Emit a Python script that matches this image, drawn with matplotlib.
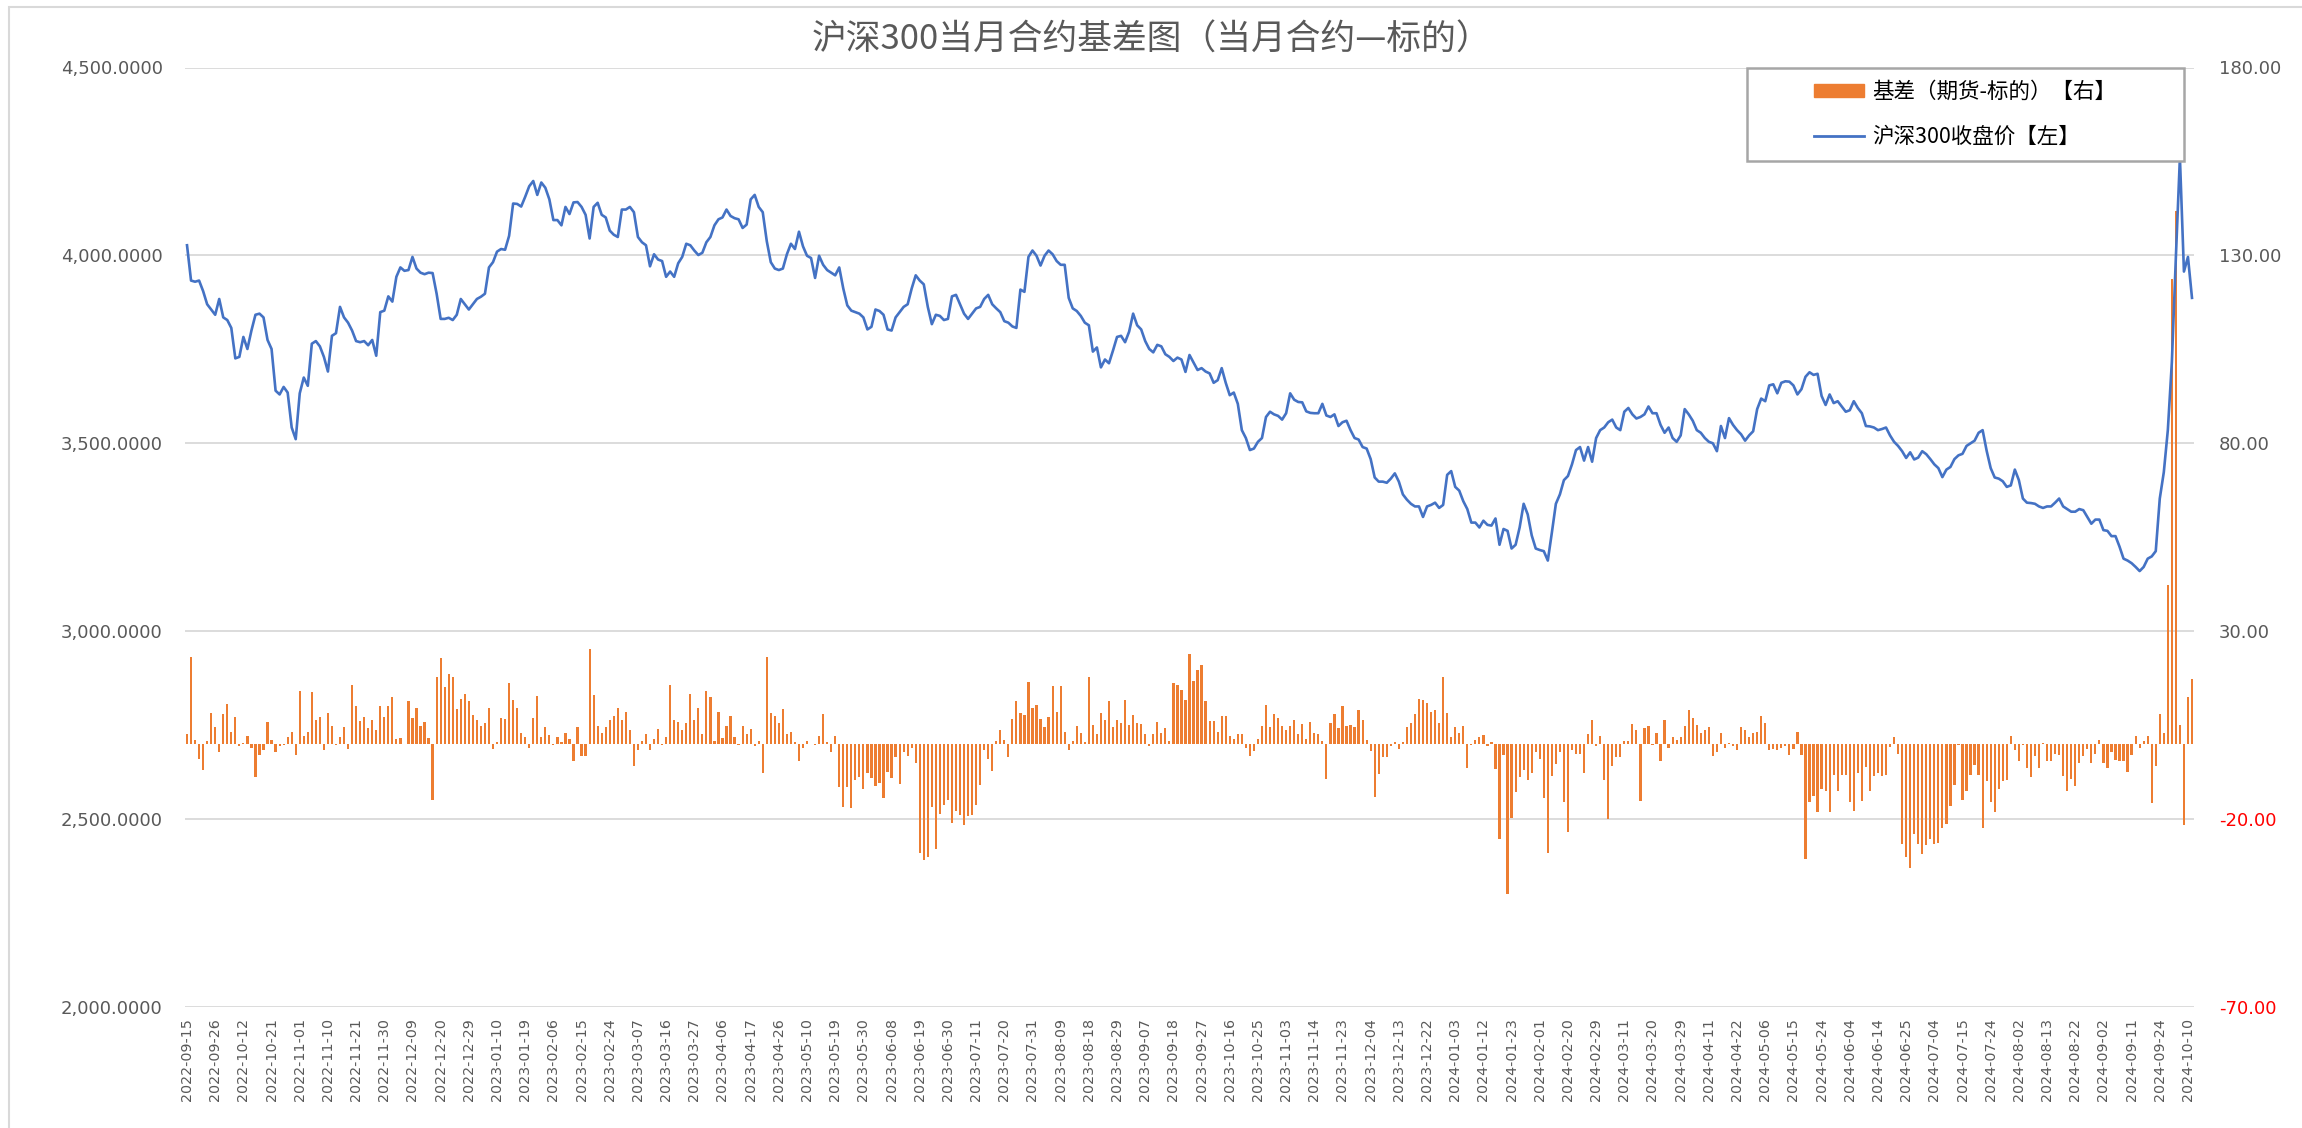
import matplotlib.pyplot as plt
from matplotlib.patches import Rectangle, Patch
from matplotlib.lines import Line2D

plt.rcParams['font.family'] = ['Noto Sans CJK SC', 'DejaVu Sans']

# x-axis labels (every 7th trading day)
tick_labels = [
    '2022-09-15', '2022-09-26', '2022-10-12', '2022-10-21', '2022-11-01', '2022-11-10',
    '2022-11-21', '2022-11-30', '2022-12-09', '2022-12-20', '2022-12-29', '2023-01-10',
    '2023-01-19', '2023-02-06', '2023-02-15', '2023-02-24', '2023-03-07', '2023-03-16',
    '2023-03-27', '2023-04-06', '2023-04-17', '2023-04-26', '2023-05-10', '2023-05-19',
    '2023-05-30', '2023-06-08', '2023-06-19', '2023-06-30', '2023-07-11', '2023-07-20',
    '2023-07-31', '2023-08-09', '2023-08-18', '2023-08-29', '2023-09-07', '2023-09-18',
    '2023-09-27', '2023-10-16', '2023-10-25', '2023-11-03', '2023-11-14', '2023-11-23',
    '2023-12-04', '2023-12-13', '2023-12-22', '2024-01-03', '2024-01-12', '2024-01-23',
    '2024-02-01', '2024-02-20', '2024-02-29', '2024-03-11', '2024-03-20', '2024-03-29',
    '2024-04-11', '2024-04-22', '2024-05-06', '2024-05-15', '2024-05-24', '2024-06-04',
    '2024-06-14', '2024-06-25', '2024-07-04', '2024-07-15', '2024-07-24', '2024-08-02',
    '2024-08-13', '2024-08-22', '2024-09-02', '2024-09-11', '2024-09-24', '2024-10-10',
]

# 沪深300收盘价 (left axis)
close = [
    4027, 3933, 3930, 3933, 3905, 3870, 3856, 3842, 3884, 3835,
    3828, 3807, 3726, 3730, 3783, 3751, 3800, 3842, 3845, 3835,
    3775, 3751, 3640, 3630, 3650, 3635, 3542, 3511, 3633, 3675,
    3653, 3765, 3772, 3758, 3730, 3691, 3786, 3793, 3863, 3835,
    3821, 3800, 3772, 3769, 3772, 3761, 3775, 3733, 3849, 3853,
    3891, 3877, 3943, 3968, 3959, 3961, 3996, 3965, 3954, 3950,
    3954, 3953, 3898, 3831, 3831, 3834, 3828, 3842, 3884, 3870,
    3856, 3870, 3884, 3890, 3898, 3968, 3982, 4010, 4017, 4015,
    4052, 4138, 4137, 4130,
    4156, 4184, 4198, 4161, 4194, 4180,
    4149, 4094, 4094, 4080, 4129, 4110, 4141, 4142, 4129, 4108,
    4045, 4129, 4140, 4108, 4101, 4066, 4055, 4049, 4122, 4122,
    4129, 4115, 4049, 4035, 4027, 3971, 4003, 3989, 3985, 3943,
    3957, 3943, 3979, 3996, 4031, 4027, 4013, 4001, 4007, 4035,
    4049, 4080, 4096, 4101, 4122, 4105, 4099, 4096, 4073, 4082,
    4149, 4161, 4129, 4115, 4038, 3982, 3965, 3961, 3965, 4003,
    4031, 4017, 4063, 4024, 3999, 3993, 3940, 3999, 3975, 3961,
    3954, 3947, 3968, 3912, 3867, 3853, 3849,
    3845, 3835, 3803,
    3810, 3856, 3852, 3842, 3803, 3800, 3835, 3849, 3863, 3870,
    3912, 3947, 3933, 3923, 3863, 3817, 3842, 3839, 3828, 3831,
    3891, 3895, 3870, 3845, 3831, 3845, 3859, 3863, 3884, 3895,
    3870, 3859, 3849, 3825, 3821, 3811, 3807, 3909, 3903, 3996,
    4013, 3999, 3973, 3999, 4013, 4003, 3985, 3975, 3975, 3887,
    3859, 3852, 3839, 3821, 3814, 3744, 3755, 3702, 3723, 3713,
    3747, 3783, 3786, 3769, 3797, 3845, 3814, 3803, 3772, 3751,
    3742, 3762, 3758, 3737, 3730, 3719, 3728, 3723, 3690, 3735,
    3715, 3695, 3700, 3691, 3686, 3661, 3668, 3700, 3661, 3628,
    3635, 3605, 3535, 3514, 3482, 3486, 3504, 3514, 3570, 3584,
    3577, 3573, 3563, 3580, 3633, 3616, 3610, 3609, 3585, 3581,
    3580, 3580, 3605, 3574, 3570, 3577, 3546, 3556, 3560, 3535,
    3514, 3510, 3490, 3486, 3458, 3409, 3398, 3398, 3395, 3406,
    3420, 3398, 3364, 3350, 3339, 3332, 3332, 3304, 3332, 3336,
    3342, 3328, 3336, 3416, 3426, 3384, 3374, 3346, 3325, 3289,
    3289, 3276, 3294, 3283, 3281, 3300, 3230, 3272, 3267, 3220,
    3230, 3276, 3339, 3311,
    3255, 3220, 3216, 3213, 3188, 3262,
    3339, 3364, 3402, 3413, 3444, 3482, 3490, 3454, 3490, 3451,
    3514, 3535, 3542, 3556, 3563, 3542, 3535, 3584, 3594, 3577,
    3566, 3570, 3577, 3598, 3580, 3580, 3549, 3528, 3542, 3514,
    3504, 3521, 3591, 3577, 3560, 3535, 3528, 3514, 3504, 3500,
    3479, 3546, 3514, 3567, 3549, 3535, 3524, 3507, 3521, 3532,
    3591, 3619, 3612, 3654, 3657, 3633, 3661, 3665, 3664, 3654,
    3630, 3644, 3677, 3689, 3682, 3685, 3626, 3602, 3630, 3607,
    3612, 3598, 3584, 3588, 3612, 3594, 3580,
    3546, 3545, 3542, 3535, 3538, 3542, 3521, 3504, 3493, 3479,
    3461, 3476, 3457, 3462, 3479, 3471, 3458, 3444, 3434, 3410,
    3430, 3437, 3458, 3468, 3472, 3493, 3500, 3507, 3528, 3535,
    3480, 3434, 3409, 3406, 3399, 3384, 3388, 3430, 3402, 3353,
    3342, 3341, 3339,
    3332, 3328, 3332, 3332, 3342, 3353, 3332, 3325, 3318, 3318,
    3325, 3322, 3304, 3286, 3297, 3297, 3269, 3267, 3253, 3253,
    3225, 3193, 3188, 3181, 3171, 3160, 3171, 3193, 3199, 3213,
    3353, 3423, 3535, 3716, 3996, 4261, 3957, 3996, 3887,
]

# 基差（期货-标的） (right axis)
basis = [
    2.6, 23.2, 1.0, -4.0, -7.0, 0.7, 8.2, 4.4, -2.2, 7.9,
    10.6, 3.3, 7.1, -0.6, 0.3, 2.2, -1.0, -8.9, -2.9, -1.5,
    5.8, 1.1, -2.2, -0.6, -0.3, 1.8, 3.2, -2.9, 14.2, 2.2,
    3.2, 13.9, 6.3, 7.1, -1.5, 8.2, 4.9, -0.3, 1.8, 4.4,
    -1.3, 15.7, 10.1, 6.0, 7.1, 4.2, 6.3, 3.6, 10.0, 7.1,
    10.0, 12.6, 1.3, 1.5, -0.1, 11.3, 6.8, 9.6, 4.9, 5.8,
    1.5, -15.0, 17.7, 22.8, 15.2, 18.6, 17.7, 9.3, 12.0, 13.3,
    11.3, 7.8, 6.3, 4.9, 5.6, 9.6, -1.3, 0.4, 6.8, 6.7,
    16.1, 11.7, 9.6,
    2.9,
    1.8, -1.0, 6.8, 12.8, 1.8, 4.4,
    2.4, -0.3, 1.8, 0.4, 2.9, 1.3, -4.6, 4.4, -3.2, -3.2,
    25.2, 13.1, 4.9, 2.9, 4.4, 6.3, 7.5, 9.6, 6.3, 8.6,
    3.6, -6.0, -1.5, 0.7, 2.6, -1.5, 1.3, 4.0, -0.3, 1.8,
    15.7, 6.3, 5.8, 3.6, 5.6, 13.3, 6.3, 9.6, 2.6, 14.2,
    12.6, 0.7, 8.6, 1.5, 4.9, 7.4, 1.8, -0.2, 4.9, 2.6,
    4.0, -0.6, 0.7, -7.8, 23.2, 8.2, 7.5, 5.6, 9.3, 2.6,
    3.2, 0.4, -4.6, -1.0, 0.7, 0.1, -0.3, 2.2, 7.9, 0.4,
    -2.2, 2.2, -11.5, -16.8, -11.5,
    -17.1, -9.6, -8.8, -12.0, -7.8, -9.0, -11.3, -10.4, -14.3, -7.4,
    -9.0, -3.6, -10.7, -2.2, -3.2, -1.0, -5.1, -29.0, -31.0, -30.0,
    -16.8, -27.9, -18.6, -16.3, -15.0, -21.0, -17.9, -19.0, -21.7, -19.3,
    -18.8, -16.3, -11.0, -1.5, -3.9, -7.1, 0.7, 3.6, 1.0, -3.6,
    6.7, 11.3, 8.2, 7.8, 16.5, 9.6, 10.4, 6.7, 4.4, 7.1,
    15.3, 8.6, 15.3, 3.3, -1.7, 0.7, 4.9, 2.8, 0.4, 17.7,
    5.1, 2.6, 8.2, 6.3, 11.3, 4.4, 6.3, 5.6, 11.7, 5.1,
    7.8, 5.6, 5.3, 2.6, -0.6, 2.6, 5.8, 2.9, 4.2, 0.7,
    16.1, 15.7, 14.3,
    11.7, 24.0, 16.8, 19.6, 21.0, 11.3, 6.0, 6.0, 3.3, 7.5,
    7.5, 2.2, 1.3, 2.6, 2.6, -1.0, -3.2, -1.8, 1.3, 4.9,
    10.4, 4.4, 7.9, 6.8, 4.9, 3.6, 4.9, 6.3, 2.6, 5.3,
    1.3, 5.8, 2.9, 2.6, 0.7, -9.2, 5.6, 7.9, 4.2, 10.0,
    4.9, 5.1, 4.4, 8.9, 6.3, 1.0, -1.8, -14.2, -8.1, -3.6,
    -3.6, -0.6, 0.4, -1.3, 0.4, 4.4, 5.6, 7.9, 12.0, 11.7,
    11.0, 8.6, 8.9, 5.6, 17.7, 8.2, 1.8, 4.4, 2.9, 4.9,
    -6.3, -0.3, 1.1, 1.8, 2.4, -0.6, 0.4, -6.8, -25.4, -2.9,
    -39.8, -19.6, -12.9, -8.8,
    -7.0, -9.6, -7.8, -2.2, -3.9, -14.3, -28.9, -8.5, -5.4, -2.2,
    -15.4, -23.5, -1.5, -2.6, -2.6, -7.8, 2.6, 6.3, -0.6, 2.2,
    -9.6, -19.9, -6.0, -3.6, -3.6, 0.7, 0.7, 5.4, 3.6, -15.2,
    4.2, 4.9, -0.3, 2.9, -4.6, 6.3, -1.0, 1.8, 1.0, 1.8,
    4.9, 8.9, 6.8, 5.1, 2.9, 3.6, 4.4, -3.2, -2.2, 2.9,
    -1.0, 0.3, -0.5, -1.5, 4.4, 3.6, 1.8, 2.9, 3.2, 7.5,
    5.6, -1.5, -1.3, -1.5, -1.0, -0.6, -2.9, -1.3, 3.3, -2.9,
    -30.7, -15.4, -13.8, -18.2, -12.1, -12.4, -18.2, -8.2, -12.6, -8.2,
    -8.2, -15.4, -17.9,
    -7.8, -15.2, -6.1, -12.6, -8.5, -7.8, -8.5, -8.2, -0.8, 1.8,
    -2.6, -26.5, -30.0, -33.0, -24.0, -26.5, -29.3, -26.8, -25.2, -26.5,
    -26.3, -22.4, -21.3, -16.5, -10.8, -0.4, -15.0, -12.4, -8.2, -5.7,
    -8.2, -22.4, -9.9, -15.4, -18.2, -12.0, -9.9, -9.6, 2.2, -1.5,
    -4.6, -0.2, -6.5, -8.8, -3.2, -6.3, 0.2, -4.6, -4.6, -2.6,
    -2.9, -8.5, -12.6, -9.2, -11.3, -5.1, -3.2, -1.3, -5.1, -2.6,
    1.0, -5.1, -6.3, -2.2, -4.3, -4.6, -4.6, -7.4, -2.9, 2.2,
    -1.0, 0.7, 2.2, -15.8, -6.0, 7.9, 2.9, 42.3, 123.6, 141.9,
    5.0, -21.7, 12.6, 17.2,
]

left_ticks = [2000, 2500, 3000, 3500, 4000, 4500]
right_ticks = [-70, -20, 30, 80, 130, 180]

W, H = 2302, 1128
fig = plt.figure(figsize=(W / 100, H / 100), dpi=100)

# chart area border
fig.patches.append(Rectangle((9 / W, -0.02), 1.0, 1.02 - 7 / H, transform=fig.transFigure,
                             fill=False, edgecolor='#d9d9d9', lw=1.5))

ax1 = fig.add_axes([185 / W, 1 - 1007 / H, (2194 - 185) / W, (1007 - 67.5) / H])
ax2 = ax1.twinx()
ax1.set_zorder(ax2.get_zorder() + 1)
ax1.patch.set_visible(False)

x = list(range(len(close)))

ax2.bar(x, basis, width=0.55, color='#ED7D31', zorder=2)
ax2.set_ylim(-70, 180)
ax2.set_yticks(right_ticks)
ax2.set_yticklabels([f'{v:.2f}' for v in right_ticks])
ax2.grid(axis='y', color='#d9d9d9', lw=1.3)
ax2.set_axisbelow(True)
for lbl, v in zip(ax2.get_yticklabels(), right_ticks):
    lbl.set_color('#ff0000' if v < 0 else '#595959')

ax1.plot(x, close, color='#4472C4', lw=1.9)
ax1.set_ylim(2000, 4500)
ax1.set_yticks(left_ticks)
ax1.set_yticklabels([f'{v:,.4f}' for v in left_ticks], color='#595959')
ax1.set_xlim(-0.5, len(close) - 0.5)
ax1.set_xticks(range(0, len(close), 7))
ax1.set_xticklabels(tick_labels, rotation=90, fontsize=10.3, color='#595959')

ax1.tick_params(axis='y', length=0, pad=16, labelsize=13, labelfontfamily='DejaVu Sans')
ax1.tick_params(axis='x', length=0, pad=8, labelfontfamily='DejaVu Sans')
ax2.tick_params(axis='y', length=0, pad=18, labelsize=13, labelfontfamily='DejaVu Sans')
for ax in (ax1, ax2):
    for s in ax.spines.values():
        s.set_visible(False)

fig.text(0.5, 1 - 40 / H, '沪深300当月合约基差图（当月合约—标的）', ha='center', va='center',
         fontsize=25, color='#595959', fontweight='light')

# legend box
bx0, bx1, by0, by1 = 1747, 2184, 68, 161
fig.patches.append(Rectangle((bx0 / W, 1 - by1 / H), (bx1 - bx0) / W, (by1 - by0) / H,
                             transform=fig.transFigure, facecolor='white',
                             edgecolor='#a6a6a6', lw=1.8, zorder=5))
handles = [Patch(color='#ED7D31'), Line2D([], [], color='#4472C4', lw=2)]
labels = ['基差（期货-标的）【右】', '沪深300收盘价【左】']
leg = fig.legend(handles, labels, loc='center', frameon=False,
                 bbox_to_anchor=((bx0 + bx1) / 2 / W, 1 - (by0 + by1) / 2 / H),
                 fontsize=15.5, handlelength=2.3, handleheight=0.5, handletextpad=0.4,
                 labelspacing=1.05)
leg.set_zorder(6)

fig.savefig('out.png', dpi=100)
